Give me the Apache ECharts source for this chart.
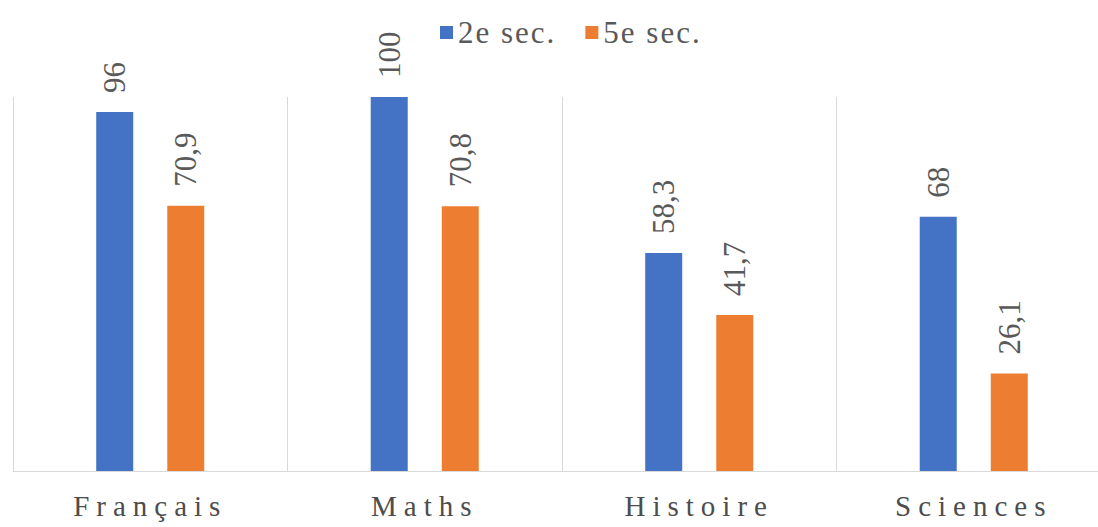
<!DOCTYPE html>
<html>
<head>
<meta charset="utf-8">
<script src="https://cdn.jsdelivr.net/npm/echarts@6/dist/echarts.min.js"></script>
<style>
  html, body { margin: 0; padding: 0; background: #fff; overflow: hidden; }
  #chart { width: 1111px; height: 527px; }
</style>
</head>
<body>
<div id="chart"></div>
<script>
const categories = ["Français", "Maths", "Histoire", "Sciences"];
const seriesNames = ["2e sec.", "5e sec."];
const secondValues = [96, 100, 58.3, 68];
const fifthValues = [70.9, 70.8, 41.7, 26.1];

const COLORS = ["#4472C4", "#ED7D31"];
const FONT = "Liberation Serif, serif";
const TEXT = "#595959";

const chart = echarts.init(document.getElementById("chart"), null, { renderer: "svg" });

const fmt = p => String(p.value).replace(".", ",");

const mkSeries = (name, data, i) => ({
  name,
  type: "bar",
  data,
  barWidth: 37,
  barGap: "92%",
  itemStyle: { color: COLORS[i] },
  label: {
    show: true,
    position: "top",
    rotate: 90,
    align: "left",
    verticalAlign: "middle",
    distance: 19,
    color: TEXT,
    fontFamily: FONT,
    fontSize: 31,
    formatter: fmt,
  },
});

chart.setOption({
  animation: false,
  backgroundColor: "#fff",
  textStyle: { fontFamily: FONT },
  legend: {
    data: seriesNames,
    top: 12,
    left: 435,
    itemWidth: 13,
    itemHeight: 13,
    itemGap: 43,
    icon: "rect",
    textStyle: { color: TEXT, fontFamily: FONT, fontSize: 31 },
  },
  grid: { left: 13, right: 0, top: 97, bottom: 56 },
  xAxis: {
    type: "category",
    data: categories,
    axisLine: { lineStyle: { color: "#d9d9d9", width: 1 } },
    axisTick: { show: false },
    splitLine: { show: true, lineStyle: { color: "#d9d9d9", width: 1 } },
    axisLabel: { color: "#4d4d4d", fontFamily: FONT, fontSize: 29, margin: 20 },
  },
  yAxis: {
    type: "value",
    min: 0,
    max: 100,
    show: false,
    splitLine: { show: false },
  },
  series: [mkSeries(seriesNames[0], secondValues, 0), mkSeries(seriesNames[1], fifthValues, 1)],
});

// spaced-out axis labels like the original
function spaceLabels() {
  document.querySelectorAll("#chart text").forEach(t => {
    const s = t.textContent;
    if (categories.includes(s)) t.setAttribute("letter-spacing", "7");
    else if (seriesNames.includes(s)) t.setAttribute("letter-spacing", "2");
  });
}
spaceLabels();
chart.on("finished", spaceLabels);
chart.on("rendered", spaceLabels);
</script>
</body>
</html>
